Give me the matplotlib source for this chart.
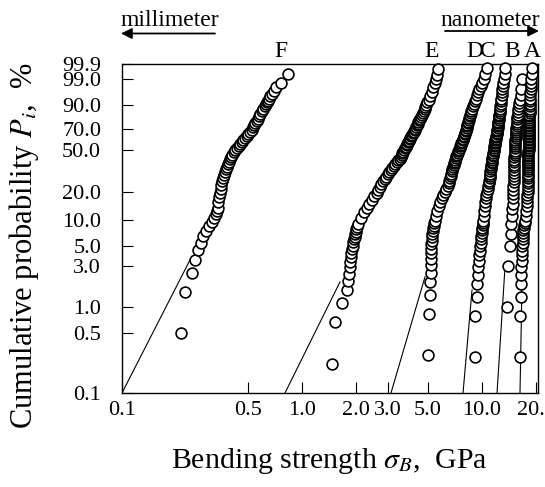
import numpy as np
import matplotlib
matplotlib.use('Agg')
import matplotlib.pyplot as plt
from matplotlib.ticker import NullLocator

plt.rcParams['font.family'] = 'Liberation Serif'
plt.rcParams['mathtext.fontset'] = 'stix'

# --- data: bending strength (GPa) vs cumulative probability (%) ---
p_f = [0.5, 1.5, 2.5, 3.5, 4.5, 5.5, 6.5, 7.5, 8.5, 9.5, 10.5, 11.5, 12.5, 13.5, 15.5, 17.5,
       19.5, 21.5, 23.5, 25.5, 27.5, 29.5, 31.5, 33.5, 35.5, 37.5, 39.5, 41.5, 43.5, 45.5,
       47.5, 49.5, 51.5, 53.5, 55.5, 57.5, 59.5, 61.5, 63.5, 65.5, 67.5, 69.5, 71.5, 73.5,
       75.5, 77.5, 79.5, 81.5, 83.5, 85.5, 87.5, 89.5, 90.5, 91.5, 92.5, 93.5, 94.5, 95.5,
       96.5, 97.5, 98.5, 99.5]
x_f = [0.213, 0.224, 0.245, 0.254, 0.264, 0.275, 0.282, 0.293, 0.304, 0.316, 0.324, 0.333,
       0.338, 0.340, 0.343, 0.346, 0.350, 0.353, 0.357, 0.360, 0.364, 0.368, 0.372, 0.376,
       0.381, 0.386, 0.392, 0.398, 0.404, 0.411, 0.419, 0.427, 0.436, 0.445, 0.454, 0.463,
       0.473, 0.483, 0.494, 0.504, 0.515, 0.526, 0.534, 0.542, 0.551, 0.559, 0.567, 0.577,
       0.587, 0.597, 0.608, 0.620, 0.628, 0.636, 0.645, 0.656, 0.668, 0.682, 0.698, 0.717,
       0.765, 0.837]

p_e = [0.22, 0.67, 1.11, 1.56, 2.0, 2.44, 2.89, 3.33, 3.78, 4.22, 4.67, 5.11, 5.56, 6.0,
       6.44, 6.89, 7.33, 7.78, 8.22, 9.0, 10.5, 12.0, 13.5, 15.0, 16.5, 18.0, 19.5, 21.0,
       22.5, 24.0, 25.5, 27.0, 28.5, 30.0, 31.5, 33.0, 34.5, 36.0, 37.5, 39.0, 40.5, 42.0,
       43.5, 45.0, 46.5, 48.0, 49.5, 51.0, 52.5, 54.0, 55.5, 57.0, 58.5, 60.0, 61.5, 63.0,
       64.5, 66.0, 67.5, 69.0, 70.5, 72.0, 73.5, 75.0, 76.5, 78.0, 79.5, 81.0, 82.5, 84.0,
       85.5, 87.0, 88.5, 90.0, 91.5, 93.0, 94.5, 96.0, 97.5, 98.4, 99.0, 99.4, 99.78]
x_e = [1.46, 1.53, 1.66, 1.77, 1.81, 1.83, 1.84, 1.85, 1.87, 1.88, 1.90, 1.91, 1.93, 1.95,
       1.96, 1.98, 1.99, 2.00, 2.02, 2.06, 2.14, 2.21, 2.29, 2.36, 2.44, 2.52, 2.60, 2.65,
       2.71, 2.76, 2.82, 2.88, 2.93, 2.99, 3.05, 3.12, 3.18, 3.24, 3.30, 3.37, 3.43, 3.49,
       3.54, 3.58, 3.61, 3.65, 3.69, 3.73, 3.77, 3.81, 3.85, 3.88, 3.92, 3.96, 4.00, 4.05,
       4.10, 4.14, 4.18, 4.22, 4.26, 4.30, 4.35, 4.39, 4.43, 4.47, 4.52, 4.56, 4.62, 4.68,
       4.74, 4.80, 4.85, 4.91, 4.96, 5.05, 5.15, 5.25, 5.35, 5.45, 5.55, 5.62, 5.70]

# upper (dense) probability levels shared by D, C and A
p_band = [11.0, 12.5, 14.0, 15.5, 17.0, 18.5, 20.0, 21.5, 23.0, 24.5, 26.0, 27.5, 29.0, 30.5,
          32.0, 33.5, 35.0, 36.5, 38.0, 39.5, 41.0, 42.5, 44.0, 45.5, 47.0, 48.5, 50.0, 51.5,
          53.0, 54.5, 56.0, 57.5, 59.0, 60.5, 62.0, 63.5, 65.0, 66.5, 68.0, 69.5, 71.0, 72.5,
          74.0, 75.5, 77.0, 78.5, 80.0, 81.5, 83.0, 84.5, 86.0, 87.5, 89.0, 90.5, 92.0, 93.5,
          95.0, 96.0, 97.0, 97.8, 98.4, 99.0, 99.5, 99.8]

p_d_low = [0.28, 0.83, 1.39, 1.94, 2.5, 3.06, 3.61, 4.17, 4.72, 5.28, 5.83, 6.39, 6.94, 7.5,
           8.06, 8.61, 9.17, 9.72]
x_d = [5.03, 5.10, 5.12, 5.17, 5.19, 5.20, 5.21, 5.22, 5.23, 5.24, 5.25, 5.27, 5.30, 5.33,
       5.36, 5.40, 5.44, 5.48,
       5.55, 5.64, 5.74, 5.86, 5.98, 6.10, 6.22, 6.35, 6.44, 6.52, 6.58, 6.64, 6.70, 6.75,
       6.80, 6.85, 6.90, 6.95, 7.00, 7.05, 7.10, 7.15, 7.20, 7.26, 7.32, 7.38, 7.44, 7.50,
       7.56, 7.62, 7.68, 7.74, 7.80, 7.86, 7.92, 7.98, 8.04, 8.09, 8.13, 8.17, 8.21, 8.25,
       8.29, 8.33, 8.37, 8.42, 8.48, 8.54, 8.60, 8.67, 8.74, 8.82, 8.91, 9.01, 9.12, 9.24,
       9.38, 9.52, 9.68, 9.84, 10.00, 10.25, 10.45, 10.66]

p_ca_low = [0.26, 0.79, 1.32, 1.84, 2.37, 2.89, 3.42, 3.95, 4.47, 5.0, 5.53, 6.05, 6.58, 7.11,
            7.63, 8.16, 8.68, 9.21, 9.74]
x_c = [9.15, 9.16, 9.35, 9.36, 9.50, 9.55, 9.60, 9.66, 9.72, 9.78, 9.83, 9.88, 9.93, 9.98,
       10.02, 10.06, 10.10, 10.13, 10.16,
       10.22, 10.28, 10.35, 10.42, 10.50, 10.58, 10.67, 10.76, 10.84, 10.90, 10.96, 11.01,
       11.06, 11.10, 11.14, 11.18, 11.22, 11.26, 11.30, 11.34, 11.38, 11.42, 11.46, 11.51,
       11.56, 11.60, 11.64, 11.68, 11.72, 11.76, 11.80, 11.84, 11.88, 11.92, 11.96, 12.00,
       12.04, 12.08, 12.12, 12.16, 12.20, 12.23, 12.26, 12.29, 12.32, 12.36, 12.40, 12.44,
       12.48, 12.52, 12.56, 12.60, 12.65, 12.70, 12.75, 12.80, 12.86, 12.92, 12.99, 13.07,
       13.15, 13.25, 13.35, 13.42]

p_b = [1, 3, 5, 7, 9, 11, 13, 15, 17, 19, 21, 23, 25, 27, 29, 31, 33, 35, 37, 39, 41, 43, 45,
       47, 49, 51, 53, 55, 57, 59, 61, 63, 65, 67, 69, 71, 73, 75, 77, 79, 81, 83, 85, 87, 89,
       91, 93, 95, 97, 99]
x_b = [13.71, 13.89, 14.31, 14.45, 14.58, 14.66, 14.73, 14.79, 14.84, 14.88, 14.92, 14.95,
       14.98, 15.01, 15.04, 15.06, 15.08, 15.10, 15.12, 15.13, 15.14, 15.15, 15.16, 15.18,
       15.20, 15.22, 15.25, 15.28, 15.31, 15.34, 15.37, 15.40, 15.43, 15.46, 15.49, 15.52,
       15.55, 15.58, 15.61, 15.66, 15.72, 15.78, 15.85, 15.93, 16.02, 16.12, 16.24, 16.38,
       16.56, 16.72]

x_a = [16.30, 16.35, 16.40, 16.45, 16.50, 16.55, 16.60, 16.65, 16.70, 16.75, 16.80, 16.85,
       16.90, 16.95, 17.00, 17.10, 17.20, 17.30, 17.40,
       17.55, 17.62, 17.68, 17.74, 17.80, 17.85, 17.90, 17.92, 17.94, 17.96, 17.97, 17.98,
       17.99, 18.00, 18.01, 18.02, 18.03, 18.04, 18.05, 18.06, 18.07, 18.08, 18.09, 18.10,
       18.11, 18.12, 18.13, 18.14, 18.15, 18.16, 18.17, 18.18, 18.19, 18.20, 18.21, 18.22,
       18.23, 18.24, 18.25, 18.26, 18.27, 18.28, 18.29, 18.30, 18.31, 18.32, 18.33, 18.35,
       18.36, 18.38, 18.40, 18.42, 18.44, 18.46, 18.48, 18.50, 18.52, 18.55, 18.60, 18.65,
       18.70, 18.78, 18.85, 18.90]

# Weibull fit lines (strength, probability) end points
fit_f = ([0.1, 0.2385], [0.1, 3.5])
fit_e = ([0.8045, 1.626], [0.1, 1.96])
fit_d = ([3.122, 4.826], [0.1, 2.25])
fit_c = ([7.845, 8.80], [0.1, 1.58])
fit_b = ([12.12, 13.42], [0.1, 2.9])
fit_a = ([16.26, 16.9], [0.1, 7.7])

x_ticks = [0.1, 0.5, 1.0, 2.0, 3.0, 5.0, 10.0, 20.0]
x_labels = ['0.1', '0.5', '1.0', '2.0', '3.0', '5.0', '10.0', '20.0']
y_ticks = [0.1, 0.5, 1.0, 3.0, 5.0, 10.0, 20.0, 50.0, 70.0, 90.0, 99.0, 99.9]
y_labels = ['0.1', '0.5', '1.0', '3.0', '5.0', '10.0', '20.0', '50.0', '70.0', '90.0', '99.0', '99.9']


def weibull(p):
    p = np.clip(np.asarray(p, dtype=float), 1e-6, 100 - 1e-6)
    return np.log(-np.log(1 - p / 100.0))


def weibull_inv(w):
    return 100.0 * (1 - np.exp(-np.exp(np.asarray(w, dtype=float))))


W, H = 545, 487
fig = plt.figure(figsize=(W / 100, H / 100), dpi=100)
ax = fig.add_axes([122 / W, 1 - 393 / H, (538 - 122) / W, (393 - 64) / H])
ax.set_xscale('log')
ax.set_yscale('function', functions=(weibull, weibull_inv))

for fx, fp in [fit_f, fit_e, fit_d, fit_c, fit_b, fit_a]:
    ax.plot(fx, fp, color='black', lw=0.8, zorder=2)

series = [(x_f, p_f), (x_e, p_e), (x_d, p_d_low + p_band), (x_c, p_ca_low + p_band),
          (x_b, p_b), (x_a, p_ca_low + p_band)]
for xs, ps in series:
    ax.plot(xs, ps, 'o', ls='none', mfc='white', mec='black', ms=7.8, mew=1.2, zorder=3,
            clip_on=False)

ax.set_xlim(0.1, 20.47)
ax.set_ylim(0.1, 99.9)
ax.set_xticks(x_ticks)
ax.set_xticklabels(x_labels)
ax.set_yticks(y_ticks)
ax.set_yticklabels(y_labels)
ax.xaxis.set_minor_locator(NullLocator())
ax.yaxis.set_minor_locator(NullLocator())
ax.tick_params(direction='in', length=8, width=0.8, labelsize=16)
ax.tick_params(axis='x', pad=6)
ax.tick_params(axis='y', pad=15)
for s in ax.spines.values():
    s.set_linewidth(1.0)


def fxp(px):
    return px / W


def fyp(py):
    return 1 - py / H


fig.text(fxp(329), fyp(468), r'Bending strength $\sigma_B$,  GPa', fontsize=21.5,
         ha='center', va='baseline')
fig.text(fxp(24), fyp(246), r'Cumulative probability $P_i$,  %', fontsize=22,
         ha='center', va='center', rotation=90)

for lab, px in [('F', 281), ('E', 432), ('D', 475), ('C', 488), ('B', 512), ('A', 532)]:
    fig.text(fxp(px), fyp(57), lab, fontsize=17, ha='center', va='baseline')

fig.text(fxp(170), fyp(26), 'millimeter', fontsize=17, ha='center', va='baseline')
fig.text(fxp(490), fyp(26), 'nanometer', fontsize=17, ha='center', va='baseline')
ax.annotate('', xy=(121, H - 33.5), xytext=(215, H - 33.5), xycoords='figure pixels',
            textcoords='figure pixels', annotation_clip=False,
            arrowprops=dict(arrowstyle='-|>', color='black', lw=1.3, mutation_scale=16,
                            shrinkA=0, shrinkB=0))
ax.annotate('', xy=(539, H - 31), xytext=(445, H - 31), xycoords='figure pixels',
            textcoords='figure pixels', annotation_clip=False,
            arrowprops=dict(arrowstyle='-|>', color='black', lw=1.3, mutation_scale=16,
                            shrinkA=0, shrinkB=0))

fig.savefig('out.png', dpi=100)
